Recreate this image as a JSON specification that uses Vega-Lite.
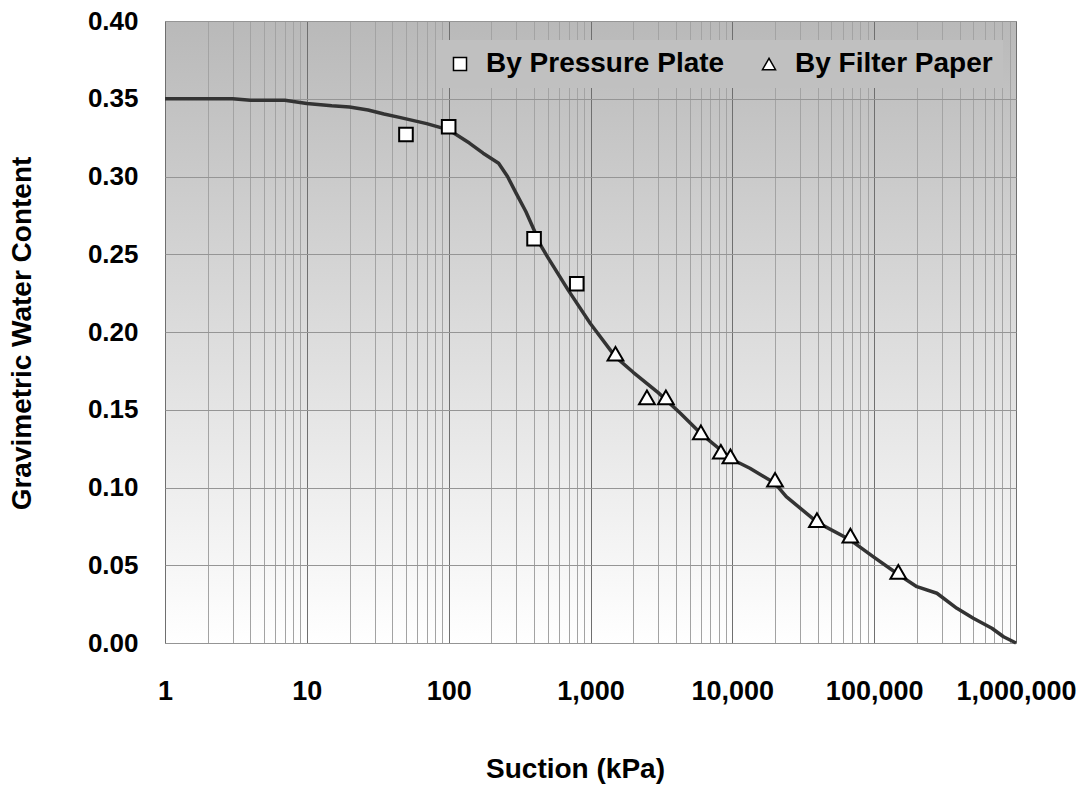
{
  "$schema": "https://vega.github.io/schema/vega-lite/v6.json",
  "width": 851,
  "height": 622,
  "autosize": {"type": "none"},
  "padding": {"left": 165, "top": 21, "right": 70, "bottom": 145},
  "background": "white",
  "config": {
    "font": "Liberation Sans",
    "view": {
      "stroke": "#8a8a8a",
      "strokeWidth": 1,
      "fill": {"gradient": "linear", "x1": 0, "y1": 0, "x2": 0, "y2": 1, "stops": [{"offset": 0, "color": "#b9b9b9"}, {"offset": 1, "color": "#ffffff"}]}
    }
  },
  "datasets": {
    "curve": [
      {"suction": 1, "water": 0.350},
      {"suction": 3, "water": 0.350},
      {"suction": 4, "water": 0.349},
      {"suction": 7, "water": 0.349},
      {"suction": 10, "water": 0.347},
      {"suction": 15, "water": 0.3455},
      {"suction": 20, "water": 0.3447},
      {"suction": 27, "water": 0.3428},
      {"suction": 35, "water": 0.3402},
      {"suction": 45, "water": 0.3380},
      {"suction": 70, "water": 0.334},
      {"suction": 100, "water": 0.330},
      {"suction": 140, "water": 0.3215},
      {"suction": 175, "water": 0.315},
      {"suction": 225, "water": 0.3085},
      {"suction": 260, "water": 0.300},
      {"suction": 300, "water": 0.289},
      {"suction": 350, "water": 0.2775},
      {"suction": 400, "water": 0.2656},
      {"suction": 450, "water": 0.255},
      {"suction": 500, "water": 0.248},
      {"suction": 700, "water": 0.2266},
      {"suction": 1000, "water": 0.2053},
      {"suction": 1500, "water": 0.184},
      {"suction": 2000, "water": 0.1741},
      {"suction": 3000, "water": 0.161},
      {"suction": 4300, "water": 0.1477},
      {"suction": 6000, "water": 0.1347},
      {"suction": 10000, "water": 0.118},
      {"suction": 13300, "water": 0.1124},
      {"suction": 20000, "water": 0.1027},
      {"suction": 24000, "water": 0.0941},
      {"suction": 40000, "water": 0.0774},
      {"suction": 68000, "water": 0.0662},
      {"suction": 100000, "water": 0.0551},
      {"suction": 150000, "water": 0.0437},
      {"suction": 200000, "water": 0.0362},
      {"suction": 277000, "water": 0.032},
      {"suction": 383000, "water": 0.0223},
      {"suction": 500000, "water": 0.0159},
      {"suction": 676000, "water": 0.0095},
      {"suction": 817000, "water": 0.004},
      {"suction": 1000000, "water": 0.0}
    ],
    "points": [
      {"suction": 50, "water": 0.327, "method": "By Pressure Plate"},
      {"suction": 100, "water": 0.332, "method": "By Pressure Plate"},
      {"suction": 400, "water": 0.260, "method": "By Pressure Plate"},
      {"suction": 800, "water": 0.231, "method": "By Pressure Plate"},
      {"suction": 1500, "water": 0.186, "method": "By Filter Paper"},
      {"suction": 2500, "water": 0.158, "method": "By Filter Paper"},
      {"suction": 3400, "water": 0.158, "method": "By Filter Paper"},
      {"suction": 6000, "water": 0.1355, "method": "By Filter Paper"},
      {"suction": 8300, "water": 0.123, "method": "By Filter Paper"},
      {"suction": 9700, "water": 0.120, "method": "By Filter Paper"},
      {"suction": 20000, "water": 0.105, "method": "By Filter Paper"},
      {"suction": 39500, "water": 0.079, "method": "By Filter Paper"},
      {"suction": 68000, "water": 0.069, "method": "By Filter Paper"},
      {"suction": 148000, "water": 0.0457, "method": "By Filter Paper"}
    ]
  },
  "layer": [
    {
      "data": {"name": "curve"},
      "mark": {"type": "line", "color": "#333333", "strokeWidth": 3.5, "strokeJoin": "round"},
      "encoding": {
        "x": {
          "field": "suction",
          "type": "quantitative",
          "scale": {"type": "log", "domain": [1, 1000000], "nice": false},
          "axis": {
            "title": "Suction (kPa)",
            "values": [1,2,3,4,5,6,7,8,9,10,20,30,40,50,60,70,80,90,100,200,300,400,500,600,700,800,900,1000,2000,3000,4000,5000,6000,7000,8000,9000,10000,20000,30000,40000,50000,60000,70000,80000,90000,100000,200000,300000,400000,500000,600000,700000,800000,900000,1000000],
            "labelExpr": "abs(log(datum.value)/LN10 - round(log(datum.value)/LN10)) < 0.0001 ? format(datum.value, ',') : ''",
            "grid": true,
            "gridColor": {"condition": {"test": "abs(log(datum.value)/LN10 - round(log(datum.value)/LN10)) < 0.0001", "value": "#6f6f6f"}, "value": "#a3a3a3"},
            "gridWidth": 1,
            "ticks": false,
            "domain": false,
            "labelFont": "Liberation Sans",
            "labelFontSize": 27,
            "labelFontWeight": "bold",
            "labelColor": "black",
            "labelPadding": 35,
            "labelFlush": false,
            "labelOverlap": false,
            "titleFont": "Liberation Sans",
            "titleFontSize": 28,
            "titleFontWeight": "bold",
            "titleColor": "black",
            "titleX": 410,
            "titleY": 134,
            "titleBaseline": "alphabetic"
          }
        },
        "y": {
          "field": "water",
          "type": "quantitative",
          "scale": {"domain": [0, 0.4], "nice": false, "zero": false},
          "axis": {
            "title": "Gravimetric Water Content",
            "values": [0, 0.05, 0.1, 0.15, 0.2, 0.25, 0.3, 0.35, 0.4],
            "format": ".2f",
            "grid": true,
            "gridColor": "#959595",
            "ticks": false,
            "domain": false,
            "labelFont": "Liberation Sans",
            "labelFontSize": 26,
            "labelFontWeight": "bold",
            "labelColor": "black",
            "labelPadding": 27,
            "titleFont": "Liberation Sans",
            "titleFontSize": 28,
            "titleFontWeight": "bold",
            "titleColor": "black",
            "titleX": -135,
            "titleY": 312,
            "titleBaseline": "alphabetic"
          }
        }
      }
    },
    {
      "data": {"name": "points"},
      "mark": {"type": "point", "filled": true, "fill": "white", "stroke": "black", "strokeWidth": 2, "opacity": 1},
      "encoding": {
        "x": {"field": "suction", "type": "quantitative"},
        "y": {"field": "water", "type": "quantitative"},
        "size": {"condition": {"test": "datum.method === 'By Filter Paper'", "value": 250}, "value": 185},
        "shape": {
          "field": "method",
          "type": "nominal",
          "scale": {"domain": ["By Pressure Plate", "By Filter Paper"], "range": ["square", "triangle-up"]},
          "legend": {
            "title": null,
            "orient": "none",
            "legendX": 271,
            "legendY": 19,
            "direction": "horizontal",
            "fillColor": "#c0c0c0",
            "padding": 10,
            "labelFont": "Liberation Sans",
            "labelFontSize": 28,
            "labelFontWeight": "bold",
            "labelColor": "black",
            "labelLimit": 500,
            "labelOffset": 12,
            "columnPadding": 30,
            "symbolSize": 170,
            "encode": {
              "symbols": {
                "update": {
                  "fill": {"value": "white"},
                  "stroke": {"value": "black"},
                  "strokeWidth": {"value": 2},
                  "size": {"signal": "datum.value === 'By Filter Paper' ? 200 : 150"},
                  "opacity": {"value": 1}
                }
              }
            }
          }
        }
      }
    }
  ]
}
